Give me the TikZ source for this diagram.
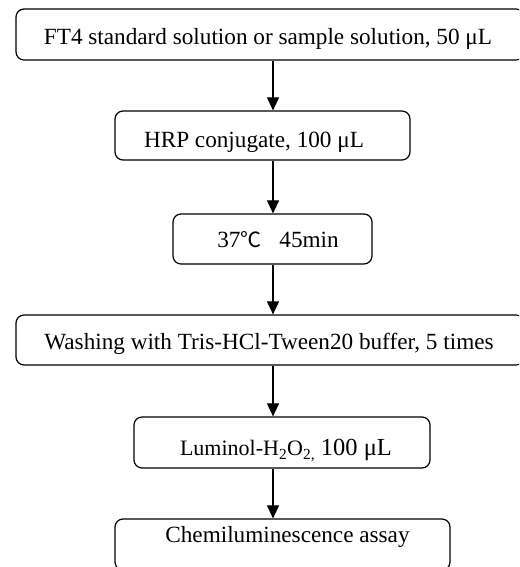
\documentclass[tikz,border=0pt]{standalone}
\usepackage{fontspec}
\setmainfont{Liberation Serif}
\newfontfamily\cjkfont{Noto Sans CJK SC}
\usetikzlibrary{arrows.meta}
\tikzset{
  box/.style={draw, line width=1.2pt, rounded corners=8pt, inner sep=0pt},
  lbl/.style={anchor=base, inner sep=0pt, font=\fontsize{23.2}{26}\selectfont},
  arr/.style={line width=1.2pt, -{Triangle[length=13pt,width=12pt]}}
}
\begin{document}
\begin{tikzpicture}[x=1pt,y=1pt]
\useasboundingbox (0,0) rectangle (519,567);
\clip (0,0) rectangle (519,567);
\coordinate (ax) at (273,0);
\node[box, minimum width=508pt, minimum height=51pt] (b1) at (270,532.5) {};
\node[box, minimum width=295pt, minimum height=49pt] (b2) at (262.5,431.5) {};
\node[box, minimum width=199pt, minimum height=50pt] (b3) at (272.5,328) {};
\node[box, minimum width=508pt, minimum height=50pt] (b4) at (270,227) {};
\node[box, minimum width=296pt, minimum height=51pt] (b5) at (282,124.5) {};
\node[box, minimum width=335pt, minimum height=51pt] (b6) at (282.5,22.5) {};
\node[lbl] (t1) at (268,522) {FT4 standard solution or sample solution, 50 μL};
\node[lbl] (t2) at (254,419) {HRP conjugate, 100 μL};
\node[lbl] (t3) at (278,319) {37{\cjkfont\fontsize{21}{24}\selectfont ℃}\hspace{18pt}45min};
\node[lbl] (t4) at (269,217) {Washing with Tris-HCl-Tween20 buffer, 5 times};
\node[lbl] (t5) at (286,111) {{\fontsize{22}{24}\selectfont Luminol-H\textsubscript{2}O\textsubscript{2,}} {\fontsize{24.5}{27}\selectfont 100 μL}};
\node[lbl] (t6) at (287.5,24) {Chemiluminescence assay};
\draw[arr] (b1.south -| ax) -- (b2.north -| ax);
\draw[arr] (b2.south -| ax) -- (b3.north -| ax);
\draw[arr] (b3.south -| ax) -- (b4.north -| ax);
\draw[arr] (b4.south -| ax) -- (b5.north -| ax);
\draw[arr] (b5.south -| ax) -- (b6.north -| ax);
\end{tikzpicture}
\end{document}
